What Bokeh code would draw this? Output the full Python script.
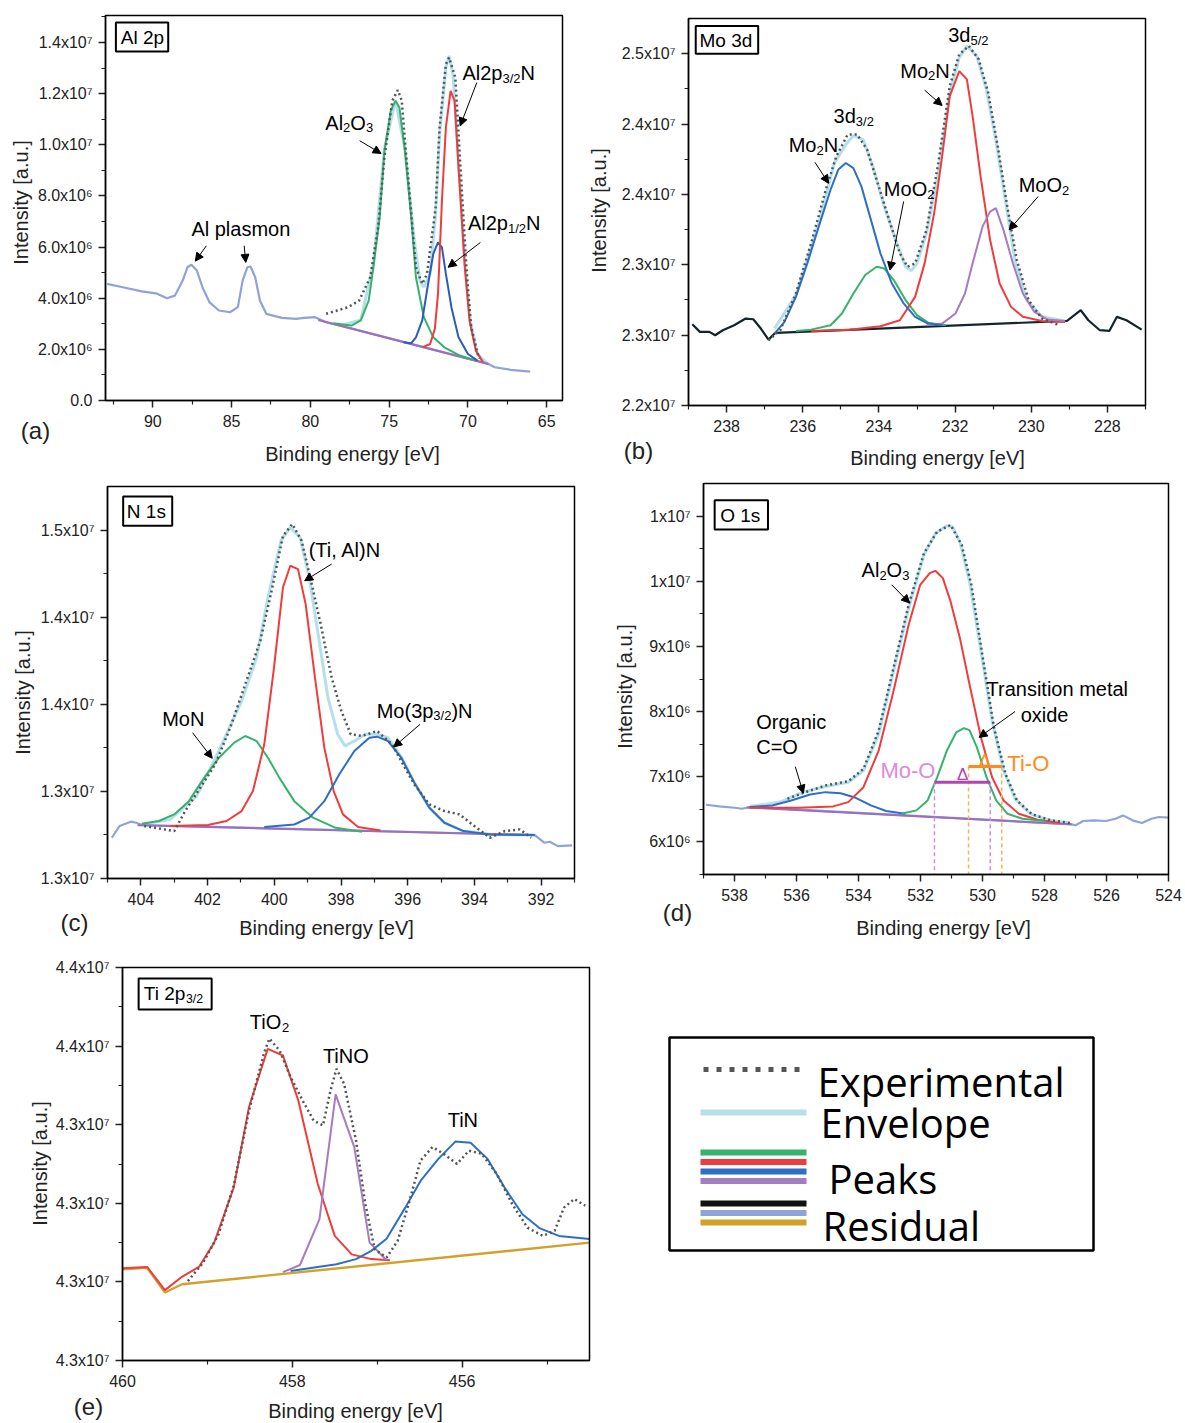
import math
from bokeh.plotting import figure
from bokeh.models import Range1d, FixedTicker, Label, Arrow, NormalHead, BoxAnnotation, LinearAxis
from bokeh.layouts import column, row
from bokeh.embed import file_html
from bokeh.resources import INLINE

FONT = "Liberation Sans"

GREEN = "#36b26c"
RED = "#ee3d3d"
BLUE = "#2f6fc2"
PURPLE = "#a67cc1"
ENVELOPE = "#b4e0ec"
EXPER = "#4f5656"
BLACKRES = "#14242a"
LAVENDER = "#8fa3d7"
GOLD = "#d3a12b"
BASEPURPLE = "#9c6ebd"
MO_O = "#b145b0"
MO_O_LIGHT = "#d98ad4"
MO_O_TEXT = "#e08ad8"
TI_O = "#ff8c1a"

# ======================= (a) Al 2p  (y in 1e6) =======================
A_UNIT = 1e6
a_resid_x = [92.9, 91.9, 90.7, 89.8, 89.1, 88.6, 88.1, 87.8, 87.55, 87.2, 86.85, 86.4, 85.8, 85.1, 84.6,
             84.3, 84.0, 83.8, 83.5, 83.2, 82.8, 81.8, 80.9, 80.4, 79.7, 79.0, 78.1, 68.7, 68.3, 67.3, 66.05]
a_resid_y = [4.56, 4.43, 4.27, 4.19, 4.00, 4.10, 4.69, 5.21, 5.31, 5.08, 4.43, 3.84, 3.52, 3.45, 3.65,
             4.69, 5.21, 5.24, 4.82, 3.91, 3.39, 3.23, 3.19, 3.23, 3.26, 3.06, 2.93, 1.43, 1.30, 1.20, 1.13]
a_bg_x = [79.5, 68.7]
a_bg_y = [3.15, 1.43]
a_green_x = [78.55, 77.4, 76.8, 76.3, 76.0, 75.6, 75.3, 74.9, 74.6, 74.35, 74.0, 73.6, 73.3, 72.8, 72.2, 71.5, 70.6, 69.65]
a_green_y = [3.02, 2.93, 3.13, 3.91, 5.21, 7.16, 9.77, 11.33, 11.72, 11.46, 9.77, 7.16, 4.82, 3.26, 2.47, 2.08, 1.78, 1.59]
a_blue_x = [74.1, 73.6, 73.3, 72.9, 72.6, 72.2, 71.9, 71.65, 71.4, 71.05, 70.6, 70.0, 69.4]
a_blue_y = [2.28, 2.24, 2.47, 3.13, 4.30, 5.73, 6.18, 5.99, 4.95, 3.65, 2.47, 1.82, 1.56]
a_red_x = [72.9, 72.4, 72.1, 71.9, 71.65, 71.4, 71.1, 70.85, 70.6, 70.2, 69.9, 69.5, 69.05]
a_red_y = [2.08, 2.21, 2.80, 4.17, 7.81, 10.68, 12.11, 11.72, 9.11, 5.21, 3.13, 1.95, 1.50]
a_env_x = [78.1, 76.8, 76.0, 75.3, 74.6, 74.0, 73.4, 73.05, 72.8, 72.4, 72.05, 71.8, 71.4, 71.2, 70.95,
           70.6, 70.2, 69.85, 69.4, 68.8]
a_env_y = [2.93, 3.15, 5.34, 9.83, 11.74, 9.83, 6.25, 4.69, 4.43, 4.95, 7.29, 10.42, 13.02, 13.48, 12.76,
           9.38, 5.34, 3.13, 1.82, 1.46]
a_exp_x = [79.0, 78.3, 77.6, 76.9, 76.2, 75.7, 75.3, 74.8, 74.45, 74.2, 74.0, 73.6, 73.3, 72.9, 72.6,
           72.05, 71.8, 71.4, 71.2, 70.8, 70.5, 70.1, 69.8, 69.3]
a_exp_y = [3.39, 3.52, 3.65, 3.91, 4.82, 6.77, 9.51, 11.72, 12.14, 11.72, 10.16, 7.29, 5.21, 4.56, 4.95,
           7.55, 10.68, 13.15, 13.41, 12.63, 9.38, 5.21, 2.86, 1.63]
a_xticks = [90, 85, 80, 75, 70, 65]
a_xminor = [92.5, 87.5, 82.5, 77.5, 72.5, 67.5]
a_xlabels = ["90", "85", "80", "75", "70", "65"]
a_yticks = [0, 2e6, 4e6, 6e6, 8e6, 1e7, 1.2e7, 1.4e7]
a_yminor = [1e6, 3e6, 5e6, 7e6, 9e6, 1.1e7, 1.3e7, 1.5e7]
a_ylabels = ["0.0", "2.0x10⁶", "4.0x10⁶", "6.0x10⁶", "8.0x10⁶", "1.0x10⁷", "1.2x10⁷", "1.4x10⁷"]

# ======================= (b) Mo 3d  (y in 1e7) =======================
B_UNIT = 1e7
b_resid_x = [238.9, 238.7, 238.45, 238.3, 238.1, 237.8, 237.5, 237.3, 237.1, 236.9, 236.74, 236.7,
             229.06, 228.7, 228.5, 228.2, 227.95, 227.75, 227.5, 227.1]
b_resid_y = [2.2577, 2.2523, 2.2523, 2.2499, 2.2535, 2.2570, 2.2618, 2.2613, 2.2547, 2.2468, 2.2511, 2.2516,
             2.2601, 2.2677, 2.2606, 2.2535, 2.2530, 2.2630, 2.2606, 2.2539]
b_blue_x = [236.74, 236.48, 236.18, 235.88, 235.58, 235.27, 235.07, 234.87, 234.67, 234.46, 234.21, 233.96,
            233.66, 233.35, 233.05, 232.75, 232.34]
b_blue_y = [2.2511, 2.2594, 2.2772, 2.3010, 2.3271, 2.3533, 2.3675, 2.3723, 2.3687, 2.3557, 2.3319, 2.3081,
            2.2867, 2.2725, 2.2630, 2.2587, 2.2570]
b_green_x = [236.18, 235.78, 235.27, 234.97, 234.67, 234.36, 234.06, 233.86, 233.61, 233.30, 233.0, 232.7, 232.24]
b_green_y = [2.2530, 2.2539, 2.2570, 2.2654, 2.2796, 2.2927, 2.2986, 2.2974, 2.2891, 2.2749, 2.2642, 2.2587, 2.2570]
b_red_x = [235.78, 234.77, 233.96, 233.45, 233.05, 232.8, 232.55, 232.34, 232.14, 231.89, 231.69, 231.54,
           231.33, 231.08, 230.83, 230.53, 230.22, 229.72, 229.11]
b_red_y = [2.2530, 2.2539, 2.2563, 2.2606, 2.2772, 2.3010, 2.3366, 2.3770, 2.4198, 2.4376, 2.4317, 2.4056,
           2.3628, 2.3176, 2.2867, 2.2701, 2.2630, 2.2601, 2.2594]
b_purple_x = [232.75, 232.34, 231.99, 231.74, 231.54, 231.28, 231.08, 230.93, 230.73, 230.48, 230.22, 229.92, 229.57, 229.11]
b_purple_y = [2.2570, 2.2582, 2.2654, 2.2796, 2.3010, 2.3271, 2.3378, 2.3402, 2.3248, 2.3010, 2.2796, 2.2665, 2.2611, 2.2601]
b_env_x = [236.74, 236.18, 235.58, 235.17, 234.87, 234.67, 234.41, 234.16, 233.86, 233.56, 233.30, 233.15,
           233.0, 232.75, 232.44, 232.14, 231.89, 231.69, 231.43, 231.18, 230.93, 230.68, 230.43, 230.12,
           229.72, 229.11]
b_env_y = [2.2547, 2.2784, 2.3295, 2.3723, 2.3854, 2.3918, 2.3889, 2.3699, 2.3414, 2.3176, 2.2986, 2.2958,
           2.3010, 2.3224, 2.3652, 2.4222, 2.4471, 2.4555, 2.4483, 2.4246, 2.3889, 2.3461, 2.3034, 2.2749,
           2.2630, 2.2601]
b_exp_x = [236.9, 236.59, 236.18, 235.78, 235.37, 235.12, 234.82, 234.57, 234.31, 234.06, 233.76, 233.45,
           233.25, 233.05, 232.75, 232.44, 232.14, 231.89, 231.64, 231.38, 231.13, 230.88, 230.63, 230.38,
           230.07, 229.72, 229.26]
b_exp_y = [2.2463, 2.2535, 2.2796, 2.3153, 2.3557, 2.3770, 2.3925, 2.3925, 2.3818, 2.3604, 2.3343, 2.3081,
           2.2986, 2.3010, 2.3248, 2.3723, 2.4270, 2.4495, 2.4555, 2.4460, 2.4222, 2.3842, 2.3414, 2.3034,
           2.2749, 2.2618, 2.2570]
b_xticks = [238, 236, 234, 232, 230, 228]
b_xminor = [239, 237, 235, 233, 231, 229, 227]
b_xlabels = ["238", "236", "234", "232", "230", "228"]
b_yticks = [2.2e7, 2.25e7, 2.3e7, 2.35e7, 2.4e7, 2.45e7]
b_yminor = [2.225e7, 2.275e7, 2.325e7, 2.375e7, 2.425e7]
b_ylabels = ["2.2x10⁷", "2.3x10⁷", "2.3x10⁷", "2.4x10⁷", "2.4x10⁷", "2.5x10⁷"]

# ======================= (c) N 1s  (y in 1e7) =======================
C_UNIT = 1e7
c_resid_x = [404.87, 404.64, 404.3, 404.14, 403.97, 392.19, 391.9, 391.74, 391.5, 391.07]
c_resid_y = [1.2734, 1.2801, 1.2826, 1.2820, 1.2807, 1.2749, 1.2705, 1.2711, 1.2686, 1.2690]
c_bg_x = [404.1, 392.2]
c_bg_y = [1.2805, 1.2749]
c_green_x = [403.97, 403.46, 403.0, 402.56, 402.1, 401.66, 401.2, 400.87, 400.53, 400.19, 399.85, 399.4, 398.84, 398.16, 397.37]
c_green_y = [1.2814, 1.2830, 1.2868, 1.2944, 1.3079, 1.3193, 1.3280, 1.3318, 1.3289, 1.3193, 1.3079, 1.2944, 1.2849, 1.2791, 1.2768]
c_red_x = [403.12, 401.99, 401.43, 400.98, 400.64, 400.3, 400.02, 399.74, 399.52, 399.29, 399.06, 398.78, 398.5, 398.22, 397.94, 397.49, 396.81]
c_red_y = [1.2801, 1.2807, 1.2830, 1.2887, 1.3002, 1.3270, 1.3692, 1.4170, 1.4295, 1.4276, 1.4075, 1.3653, 1.3251, 1.3002, 1.2868, 1.2795, 1.2776]
c_blue_x = [400.3, 399.4, 398.95, 398.5, 398.05, 397.6, 397.15, 396.92, 396.59, 396.19, 395.8, 395.35, 394.9, 394.33, 393.54, 392.19]
c_blue_y = [1.2795, 1.2810, 1.2849, 1.2944, 1.3098, 1.3232, 1.3308, 1.3314, 1.3289, 1.3193, 1.3050, 1.2906, 1.2820, 1.2772, 1.2753, 1.2749]
c_env_x = [403.97, 403.12, 402.33, 401.66, 400.98, 400.53, 400.19, 399.8, 399.52, 399.23, 398.95, 398.67,
           398.39, 398.1, 397.88, 397.6, 397.26, 396.92, 396.59, 396.19, 395.8, 395.35, 394.9, 394.33, 393.54, 392.19]
c_env_y = [1.2810, 1.2839, 1.2973, 1.3232, 1.3519, 1.3768, 1.4113, 1.4439, 1.4515, 1.4458, 1.4228, 1.3883,
           1.3538, 1.3328, 1.3261, 1.3289, 1.3328, 1.3328, 1.3308, 1.3197, 1.3050, 1.2906, 1.2820, 1.2772, 1.2753, 1.2749]
c_exp_x = [403.9, 403.46, 403.0, 402.67, 402.22, 401.77, 401.32, 400.87, 400.42, 400.08, 399.74, 399.46,
           399.18, 398.9, 398.61, 398.28, 397.99, 397.71, 397.37, 396.92, 396.47, 396.14, 395.8, 395.35,
           394.9, 394.45, 394.0, 393.54, 393.09, 392.64, 392.3]
c_exp_y = [1.2801, 1.2787, 1.2772, 1.2887, 1.3021, 1.3155, 1.3366, 1.3615, 1.3864, 1.4152, 1.4467, 1.4534,
           1.4439, 1.4209, 1.3960, 1.3653, 1.3462, 1.3328, 1.3318, 1.3347, 1.3270, 1.3155, 1.3040, 1.2925,
           1.2887, 1.2868, 1.2801, 1.2734, 1.2772, 1.2782, 1.2734]
c_xticks = [404, 402, 400, 398, 396, 394, 392]
c_xminor = [405, 403, 401, 399, 397, 395, 393, 391]
c_xlabels = ["404", "402", "400", "398", "396", "394", "392"]
c_yticks = [1.25e7, 1.3e7, 1.35e7, 1.4e7, 1.45e7]
c_yminor = [1.275e7, 1.325e7, 1.375e7, 1.425e7]
c_ylabels = ["1.3x10⁷", "1.3x10⁷", "1.4x10⁷", "1.4x10⁷", "1.5x10⁷"]

# ======================= (d) O 1s  (y in 1e6) =======================
D_UNIT = 1e6
d_resid_x = [538.92, 538.49, 538.0, 537.76, 537.51, 527.12, 527.0, 526.75, 526.39, 526.02, 525.71, 525.47,
             525.16, 524.86, 524.55, 524.31, 524.0]
d_resid_y = [6.570, 6.545, 6.524, 6.509, 6.535, 6.270, 6.255, 6.321, 6.331, 6.321, 6.356, 6.407,
             6.331, 6.290, 6.356, 6.382, 6.372]
d_bg_x = [537.6, 527.12]
d_bg_y = [6.53, 6.27]
d_blue_x = [537.51, 536.78, 536.17, 535.56, 535.07, 534.58, 534.09, 533.6, 533.11, 532.5]
d_blue_y = [6.535, 6.560, 6.636, 6.728, 6.764, 6.748, 6.677, 6.560, 6.474, 6.433]
d_red_x = [537.51, 535.92, 534.82, 534.33, 533.84, 533.35, 532.87, 532.38, 532.01, 531.7, 531.52, 531.28,
           531.03, 530.73, 530.42, 530.05, 529.69, 529.32, 528.83, 528.22, 527.49]
d_red_y = [6.524, 6.524, 6.545, 6.611, 6.840, 7.400, 8.317, 9.335, 9.946, 10.124, 10.160, 10.048,
           9.691, 9.131, 8.419, 7.604, 6.993, 6.636, 6.433, 6.341, 6.290]
d_green_x = [532.62, 532.13, 531.77, 531.46, 531.15, 530.85, 530.6, 530.42, 530.18, 529.87, 529.56, 529.2, 528.71, 527.97]
d_green_y = [6.433, 6.484, 6.636, 6.993, 7.400, 7.680, 7.746, 7.716, 7.451, 6.993, 6.636, 6.433, 6.356, 6.321]
d_env_x = [537.51, 536.53, 535.8, 535.07, 534.33, 533.84, 533.35, 532.87, 532.38, 531.89, 531.52, 531.15,
           530.97, 530.73, 530.42, 530.05, 529.69, 529.32, 528.95, 528.46, 527.85, 527.18]
d_env_y = [6.545, 6.611, 6.764, 6.850, 6.916, 7.095, 7.655, 8.622, 9.590, 10.404, 10.735, 10.852,
           10.837, 10.608, 9.997, 8.928, 7.858, 7.095, 6.662, 6.433, 6.331, 6.290]
d_exp_x = [536.29, 535.8, 535.07, 534.33, 533.84, 533.35, 532.87, 532.38, 531.89, 531.46, 531.03, 530.67,
           530.36, 529.99, 529.63, 529.26, 528.89, 528.4, 527.79, 527.18]
d_exp_y = [6.662, 6.748, 6.866, 6.932, 7.120, 7.706, 8.673, 9.641, 10.430, 10.761, 10.863, 10.557,
           9.946, 8.826, 7.757, 7.044, 6.636, 6.423, 6.331, 6.290]
d_moo_x = [531.55, 529.75]
d_moo_y = 6.917
d_tio_x = [530.45, 529.38]
d_tio_y = 7.156
d_xticks = [538, 536, 534, 532, 530, 528, 526, 524]
d_xminor = [539, 537, 535, 533, 531, 529, 527, 525]
d_xlabels = ["538", "536", "534", "532", "530", "528", "526", "524"]
d_yticks = [6e6, 7e6, 8e6, 9e6, 1e7, 1.1e7]
d_yminor = [5.5e6, 6.5e6, 7.5e6, 8.5e6, 9.5e6, 1.05e7]
d_ylabels = ["6x10⁶", "7x10⁶", "8x10⁶", "9x10⁶", "1x10⁷", "1x10⁷"]

# ======================= (e) Ti 2p3/2  (y in 1e7) =======================
E_UNIT = 1e7
e_base_x = [460.0, 459.71, 459.5, 459.3, 454.5]
e_base_y = [4.3032, 4.3036, 4.2973, 4.2994, 4.3100]
e_red_x = [460.0, 459.71, 459.5, 459.3, 459.1, 458.92, 458.69, 458.51, 458.29, 458.11, 457.93, 457.7,
           457.5, 457.3, 457.07, 456.85]
e_red_y = [4.3035, 4.3038, 4.2979, 4.3013, 4.3038, 4.3100, 4.3240, 4.3445, 4.3593, 4.3576, 4.3462, 4.3249,
           4.3117, 4.3070, 4.3058, 4.3055]
e_purple_x = [458.11, 457.91, 457.68, 457.49, 457.27, 457.09, 456.89]
e_purple_y = [4.3025, 4.3043, 4.3160, 4.3477, 4.3343, 4.3100, 4.3055]
e_blue_x = [458.02, 457.48, 457.25, 457.07, 456.89, 456.67, 456.49, 456.28, 456.08, 455.9, 455.7, 455.5,
            455.29, 455.09, 454.86, 454.5]
e_blue_y = [4.3028, 4.3045, 4.3058, 4.3079, 4.3110, 4.3189, 4.3257, 4.3313, 4.3357, 4.3354, 4.3313, 4.3240,
            4.3172, 4.3137, 4.3117, 4.3109]
e_exp_x = [459.23, 459.05, 458.87, 458.69, 458.51, 458.33, 458.27, 458.15, 458.02, 457.88, 457.75, 457.64,
           457.55, 457.48, 457.39, 457.25, 457.14, 457.03, 456.89, 456.76, 456.62, 456.49, 456.35, 456.22,
           456.06, 455.92, 455.77, 455.59, 455.41, 455.23, 455.05, 454.91, 454.8, 454.68, 454.55]
e_exp_y = [4.3002, 4.3049, 4.3121, 4.3245, 4.3436, 4.3585, 4.3619, 4.3589, 4.3521, 4.3462, 4.3411, 4.3398,
           4.3487, 4.3542, 4.3504, 4.3360, 4.3198, 4.3083, 4.3062, 4.3104, 4.3206, 4.3309, 4.3343, 4.3326,
           4.3300, 4.3334, 4.3326, 4.3274, 4.3198, 4.3138, 4.3117, 4.3130, 4.3189, 4.3211, 4.3194]
e_xticks = [460, 458, 456]
e_xminor = [459, 457, 455]
e_xlabels = ["460", "458", "456"]
e_yticks = [4.28e7, 4.30e7, 4.32e7, 4.34e7, 4.36e7, 4.38e7]
e_yminor = [4.29e7, 4.31e7, 4.33e7, 4.35e7, 4.37e7]
e_ylabels = ["4.3x10⁷", "4.3x10⁷", "4.3x10⁷", "4.3x10⁷", "4.4x10⁷", "4.4x10⁷"]

# ======================= legend =======================
leg_labels = ["Experimental", "Envelope", "Peaks", "Residual"]
leg_peak_colors = [GREEN, RED, BLUE, PURPLE]
leg_res_colors = ["#111111", LAVENDER, GOLD]

# ---------------------------------------------------------------
ARIAL = {' ': 278, '(': 333, ')': 333, ',': 278, '-': 333, '.': 278, '/': 278, '=': 584,
         'A': 667, 'C': 722, 'M': 833, 'N': 722, 'O': 778, 'T': 611,
         'a': 556, 'c': 500, 'd': 556, 'e': 556, 'g': 556, 'i': 222, 'l': 222, 'm': 833, 'n': 556,
         'o': 556, 'p': 556, 'r': 333, 's': 500, 't': 278, 'x': 500}


def text_width(s, size):
    return sum(ARIAL.get(ch, 556) for ch in s) / 1000.0 * size


def rich(p, x, y, segs, size=20, color="black", align="left"):
    sizes = [size * (0.65 if m != "n" else 1.0) for _, m in segs]
    widths = [text_width(t, fs) for (t, _), fs in zip(segs, sizes)]
    total = sum(widths)
    off = {"left": 0.0, "center": -total / 2, "right": -total}[align]
    for (t, m), fs, w in zip(segs, sizes, widths):
        yo = -0.27 * size if m == "sub" else 0
        p.add_layout(Label(x=x, y=y, x_offset=off, y_offset=yo, text=t, text_font=FONT,
                           text_font_size=f"{fs:.1f}px", text_color=color,
                           text_baseline="middle", text_align="left"))
        off += w


def arrow(p, x0, y0, x1, y1):
    p.add_layout(Arrow(end=NormalHead(size=8, fill_color="black", line_color="black", line_width=1),
                       x_start=x0, y_start=y0, x_end=x1, y_end=y1, line_color="black", line_width=1))


def box(p, l, r, t, b, width=2):
    p.add_layout(BoxAnnotation(left=l, right=r, top=t, bottom=b, fill_alpha=0,
                               line_color="black", line_width=width, line_alpha=1))


def style_axis(ax, standoff):
    ax.axis_line_width = 1.5
    ax.axis_line_color = "#222222"
    ax.major_tick_line_width = 1.5
    ax.minor_tick_line_width = 1.2
    ax.major_tick_line_color = "#222222"
    ax.minor_tick_line_color = "#222222"
    ax.major_tick_out = 7
    ax.major_tick_in = 0
    ax.minor_tick_out = 4
    ax.minor_tick_in = 0
    ax.major_label_text_font = FONT
    ax.major_label_text_font_size = "16px"
    ax.major_label_text_color = "#222222"
    ax.major_label_standoff = standoff


def make_panel(W, H, origin, area, xr, yr, xt, xm, xl, yt, ym, yl, xlab_pos, ylab_pos, letter, letter_pos):
    """area = (left, right, top, bottom) of the plotting box in canvas pixels.
    The frame fills the whole canvas; axes are pinned to the plotting box edges so that
    texts placed in the margins (panel letter, axis titles) are not clipped."""
    L, R, T, B = area
    ox, oy = origin
    x0, x1 = xr
    y0, y1 = yr
    dx = (x1 - x0) / (R - L)
    dy = (y1 - y0) / (B - T)
    p = figure(width=W, height=H,
               x_range=Range1d(x0 - dx * L, x1 + dx * (W - R)),
               y_range=Range1d(y0 - dy * (H - B), y1 + dy * T),
               output_backend="svg", toolbar_location=None, min_border=0,
               x_axis_location=None, y_axis_location=None, title=None)
    for g in p.grid:
        g.visible = False
    p.outline_line_color = None
    xt_f = [float(v) for v in xt]
    yt_i = [int(round(v)) for v in yt]
    xaxis = LinearAxis(fixed_location=y0, bounds=(min(x0, x1), max(x0, x1)),
                       ticker=FixedTicker(ticks=xt_f, minor_ticks=xm))
    xaxis.major_label_overrides = {v: s for v, s in zip(xt_f, xl)}
    style_axis(xaxis, 7)
    yaxis = LinearAxis(fixed_location=x0, bounds=(min(y0, y1), max(y0, y1)),
                       ticker=FixedTicker(ticks=yt_i, minor_ticks=ym))
    yaxis.major_label_overrides = {v: s for v, s in zip(yt_i, yl)}
    style_axis(yaxis, 6)
    p.add_layout(xaxis, "below")
    p.add_layout(yaxis, "left")
    box(p, x0, x1, y1, y0, width=1.5)

    def screen_label(pos, txt, size, angle=0.0):
        px, py = pos
        p.add_layout(Label(x=px - ox, y=H - (py - oy), x_units="screen", y_units="screen", text=txt,
                           text_font=FONT, text_font_size=size, text_color="#222222", angle=angle,
                           text_align="center", text_baseline="middle"))
    screen_label(xlab_pos, "Binding energy [eV]", "20px")
    screen_label(ylab_pos, "Intensity [a.u.]", "20px", angle=math.pi / 2)
    screen_label(letter_pos, letter, "24px")
    return p


def curve(p, xs, ys, unit, color, width=2.0, dash="solid"):
    p.line(xs, [v * unit for v in ys], line_color=color, line_width=width, line_dash=dash)


EXP_DASH = "2 3"

# ---------------- (a)
pa = make_panel(585, 470, (0, 0), (105, 562, 15, 400), (93, 64), (0, 1.5056e7),
                a_xticks, a_xminor, a_xlabels, a_yticks, a_yminor, a_ylabels,
                (352, 453), (20, 202), "(a)", (35, 430))
curve(pa, a_env_x, a_env_y, A_UNIT, ENVELOPE, 3)
curve(pa, a_resid_x, a_resid_y, A_UNIT, LAVENDER, 2.2)
curve(pa, a_bg_x, a_bg_y, A_UNIT, BASEPURPLE, 2)
curve(pa, a_green_x, a_green_y, A_UNIT, GREEN)
curve(pa, a_blue_x, a_blue_y, A_UNIT, "#2b5cb8")
curve(pa, a_red_x, a_red_y, A_UNIT, RED)
curve(pa, a_exp_x, a_exp_y, A_UNIT, EXPER, 2.5, EXP_DASH)
box(pa, 92.34, 89.02, 14.78e6, 13.65e6)
rich(pa, 92.03, 14.21e6, [("Al 2p", "n")], size=19)
rich(pa, 87.55, 6.7e6, [("Al plasmon", "n")])
rich(pa, 79.05, 10.87e6, [("Al", "n"), ("2", "sub"), ("O", "n"), ("3", "sub")])
rich(pa, 70.35, 12.8e6, [("Al2p", "n"), ("3/2", "sub"), ("N", "n")])
rich(pa, 70.0, 6.95e6, [("Al2p", "n"), ("1/2", "sub"), ("N", "n")])
arrow(pa, 86.6, 6.05e6, 87.3, 5.45e6)
arrow(pa, 84.2, 6.05e6, 84.1, 5.40e6)
arrow(pa, 76.87, 10.16e6, 75.51, 9.66e6)
arrow(pa, 69.44, 12.43e6, 70.49, 10.74e6)
arrow(pa, 69.21, 6.18e6, 71.26, 5.21e6)

# ---------------- (b)
pb = make_panel(599, 470, (585, 0), (103, 560, 18, 405), (239, 227), (2.2e7, 2.475e7),
                b_xticks, b_xminor, b_xlabels, b_yticks, b_yminor, b_ylabels,
                (937, 457), (598, 210), "(b)", (638, 450))
curve(pb, b_env_x, b_env_y, B_UNIT, ENVELOPE, 3)
curve(pb, b_resid_x, b_resid_y, B_UNIT, BLACKRES, 2.2)
curve(pb, b_green_x, b_green_y, B_UNIT, GREEN)
curve(pb, b_red_x, b_red_y, B_UNIT, RED)
curve(pb, b_purple_x, b_purple_y, B_UNIT, PURPLE)
curve(pb, b_blue_x, b_blue_y, B_UNIT, BLUE)
curve(pb, b_exp_x, b_exp_y, B_UNIT, EXPER, 2.5, EXP_DASH)
box(pb, 238.81, 237.17, 2.4697e7, 2.45e7)
rich(pb, 238.71, 2.4597e7, [("Mo 3d", "n")], size=19)
rich(pb, 232.18, 2.4635e7, [("3d", "n"), ("5/2", "sub")])
rich(pb, 233.44, 2.438e7, [("Mo", "n"), ("2", "sub"), ("N", "n")])
rich(pb, 235.19, 2.406e7, [("3d", "n"), ("3/2", "sub")])
rich(pb, 236.37, 2.3848e7, [("Mo", "n"), ("2", "sub"), ("N", "n")])
rich(pb, 233.87, 2.354e7, [("MoO", "n"), ("2", "sub")])
rich(pb, 230.33, 2.3565e7, [("MoO", "n"), ("2", "sub")])
arrow(pb, 232.8, 2.4241e7, 232.34, 2.4132e7)
arrow(pb, 235.68, 2.3728e7, 235.32, 2.3580e7)
arrow(pb, 233.35, 2.3450e7, 233.71, 2.2962e7)
arrow(pb, 229.82, 2.3485e7, 230.58, 2.3248e7)

# ---------------- (c)
pc = make_panel(590, 470, (0, 470), (107, 574, 16, 408), (405, 391), (1.25e7, 1.475e7),
                c_xticks, c_xminor, c_xlabels, c_yticks, c_yminor, c_ylabels,
                (326, 927), (22, 692), "(c)", (74, 922))
curve(pc, c_env_x, c_env_y, C_UNIT, ENVELOPE, 3)
curve(pc, c_resid_x, c_resid_y, C_UNIT, LAVENDER, 2.2)
curve(pc, c_bg_x, c_bg_y, C_UNIT, BASEPURPLE, 2)
curve(pc, c_green_x, c_green_y, C_UNIT, GREEN)
curve(pc, c_red_x, c_red_y, C_UNIT, RED)
curve(pc, c_blue_x, c_blue_y, C_UNIT, BLUE)
curve(pc, c_exp_x, c_exp_y, C_UNIT, EXPER, 2.5, EXP_DASH)
box(pc, 404.53, 403.06, 1.4692e7, 1.4525e7)
rich(pc, 404.42, 1.4607e7, [("N 1s", "n")], size=19)
rich(pc, 398.97, 1.4385e7, [("(Ti, Al)N", "n")])
rich(pc, 403.36, 1.3417e7, [("MoN", "n")])
rich(pc, 396.93, 1.3464e7, [("Mo(3p", "n"), ("3/2", "sub"), (")N", "n")])
arrow(pc, 398.28, 1.4305e7, 399.09, 1.4209e7)
arrow(pc, 402.45, 1.3337e7, 401.86, 1.3190e7)
arrow(pc, 395.63, 1.3385e7, 396.42, 1.3255e7)

# ---------------- (d)
pd_ = make_panel(594, 470, (590, 470), (113, 578, 13, 404), (539, 524), (5.5e6, 1.15e7),
                 d_xticks, d_xminor, d_xlabels, d_yticks, d_yminor, d_ylabels,
                 (943, 927), (624, 686), "(d)", (677, 912))
curve(pd_, d_env_x, d_env_y, D_UNIT, ENVELOPE, 3)
curve(pd_, d_resid_x, d_resid_y, D_UNIT, LAVENDER, 2.2)
curve(pd_, d_bg_x, d_bg_y, D_UNIT, BASEPURPLE, 2)
curve(pd_, d_blue_x, d_blue_y, D_UNIT, BLUE)
curve(pd_, d_red_x, d_red_y, D_UNIT, RED)
curve(pd_, d_green_x, d_green_y, D_UNIT, GREEN)
curve(pd_, d_exp_x, d_exp_y, D_UNIT, "#3f5b5b", 2.5, EXP_DASH)
for xv in d_moo_x:
    pd_.line([xv, xv], [d_moo_y * D_UNIT, 5.5e6], line_color=MO_O_LIGHT, line_width=1.5, line_dash="4 3")
for xv in d_tio_x:
    pd_.line([xv, xv], [d_tio_y * D_UNIT, 5.5e6], line_color="#ffae5c", line_width=1.5, line_dash="4 3")
pd_.line(d_moo_x, [d_moo_y * D_UNIT] * 2, line_color=MO_O, line_width=3)
pd_.line(d_tio_x, [d_tio_y * D_UNIT] * 2, line_color=TI_O, line_width=3)
box(pd_, 538.64, 536.92, 11.244e6, 10.796e6)
rich(pd_, 538.46, 11.015e6, [("O 1s", "n")], size=19)
rich(pd_, 533.9, 10.175e6, [("Al", "n"), ("2", "sub"), ("O", "n"), ("3", "sub")])
rich(pd_, 529.87, 8.342e6, [("Transition metal", "n")])
rich(pd_, 528.77, 7.95e6, [("oxide", "n")])
rich(pd_, 537.3, 7.833e6, [("Organic", "n")])
rich(pd_, 537.3, 7.451e6, [("C=O", "n")])
rich(pd_, 531.52, 7.095e6, [("Mo-O", "n")], size=22, color=MO_O_TEXT, align="right")
rich(pd_, 529.2, 7.197e6, [("Ti-O", "n")], size=22, color=TI_O)
pd_.add_layout(Label(x=530.64, y=7.034e6, text="Δ", text_font=FONT, text_font_size="17px",
                     text_color=MO_O, text_align="center", text_baseline="middle"))
pd_.add_layout(Label(x=529.93, y=7.247e6, text="Δ", text_font=FONT, text_font_size="17px",
                     text_color=TI_O, text_align="center", text_baseline="middle"))
arrow(pd_, 532.93, 9.946e6, 532.35, 9.666e6)
arrow(pd_, 528.95, 8.001e6, 530.11, 7.604e6)
arrow(pd_, 536.04, 7.156e6, 535.78, 6.748e6)

# ---------------- (e)
pe = make_panel(600, 482, (0, 940), (122, 589, 27, 420), (460, 454.5), (4.28e7, 4.38e7),
                e_xticks, e_xminor, e_xlabels, e_yticks, e_yminor, e_ylabels,
                (355, 1410), (39, 1163), "(e)", (88, 1406))
curve(pe, e_base_x, e_base_y, E_UNIT, GOLD, 2.4)
curve(pe, e_red_x, e_red_y, E_UNIT, RED)
curve(pe, e_purple_x, e_purple_y, E_UNIT, PURPLE)
curve(pe, e_blue_x, e_blue_y, E_UNIT, BLUE)
curve(pe, e_exp_x, e_exp_y, E_UNIT, EXPER, 2.5, EXP_DASH)
box(pe, 459.81, 458.95, 4.3772e7, 4.3693e7)
rich(pe, 459.75, 4.3733e7, [("Ti 2p", "n"), ("3/2", "sub")], size=19)
rich(pe, 458.5, 4.3661e7, [("TiO", "n"), ("2", "sub")])
rich(pe, 457.64, 4.3576e7, [("TiNO", "n")])
rich(pe, 456.17, 4.3411e7, [("TiN", "n")])

# ---------------- legend panel (ranges expressed in page pixels)
pl = figure(width=584, height=482, x_range=Range1d(600, 1184), y_range=Range1d(1422, 940),
            output_backend="svg", toolbar_location=None, min_border=0,
            x_axis_location=None, y_axis_location=None, title=None)
for g in pl.grid:
    g.visible = False
pl.outline_line_color = None
pl.add_layout(BoxAnnotation(left=669, right=1093, top=1037, bottom=1250, fill_alpha=0,
                            line_color="black", line_width=2.5, line_alpha=1))
SX0, SX1 = 700, 806
pl.line([SX0 + 3, SX1 - 3], [1069, 1069], line_color="#555555", line_width=5, line_dash="5 8")
pl.line([SX0, SX1], [1112, 1112], line_color=ENVELOPE, line_width=6)
for i, c in enumerate(leg_peak_colors):
    pl.line([SX0, SX1], [1152 + 9.5 * i, 1152 + 9.5 * i], line_color=c, line_width=6)
for i, c in enumerate(leg_res_colors):
    pl.line([SX0, SX1], [1203 + 9.5 * i, 1203 + 9.5 * i], line_color=c, line_width=6)
for txt, tx, ty in zip(leg_labels, [817, 820, 828, 822], [1081, 1122, 1178, 1225]):
    pl.add_layout(Label(x=tx, y=ty, text=txt, text_font="Open Sans", text_font_size="40px",
                        text_color="black", text_baseline="alphabetic", text_align="left"))

layout = column(row(pa, pb), row(pc, pd_), row(pe, pl))
open("out.html", "w").write(file_html(layout, INLINE))
